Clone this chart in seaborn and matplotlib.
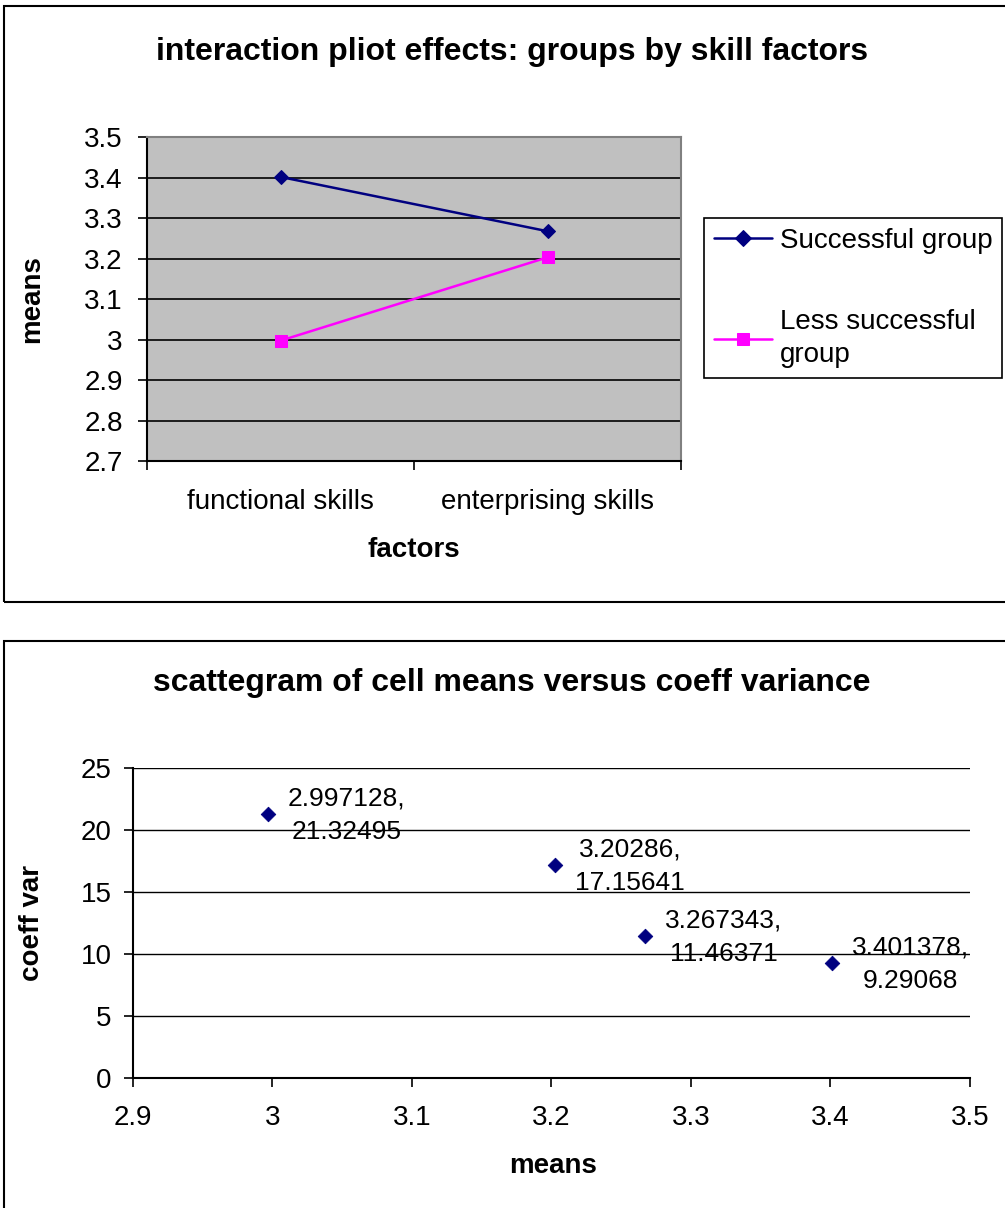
import matplotlib
matplotlib.use("Agg")
import matplotlib.pyplot as plt
import seaborn as sns
import pandas as pd
from matplotlib.patches import Rectangle

# ---------------- data ----------------
factors = ["functional skills", "enterprising skills"]
group_names = ["Successful group", "Less successful group"]
legend_labels = ["Successful group", "Less successful\ngroup"]
successful_means = [3.401378, 3.267343]
less_successful_means = [2.997128, 3.20286]
top_yticks = [2.7, 2.8, 2.9, 3.0, 3.1, 3.2, 3.3, 3.4, 3.5]
top_yticklabels = ["2.7", "2.8", "2.9", "3", "3.1", "3.2", "3.3", "3.4", "3.5"]

cell_means = [2.997128, 3.20286, 3.267343, 3.401378]
coeff_var = [21.32495, 17.15641, 11.46371, 9.29068]
bottom_xticks = [2.9, 3.0, 3.1, 3.2, 3.3, 3.4, 3.5]
bottom_xticklabels = ["2.9", "3", "3.1", "3.2", "3.3", "3.4", "3.5"]
bottom_yticks = [0, 5, 10, 15, 20, 25]

title_top = "interaction pliot effects: groups by skill factors"
title_bottom = "scattegram of cell means versus coeff variance"

NAVY = "#000080"
MAGENTA = "#FF00FF"

sns.set_theme(style="white")
plt.rcParams['font.family'] = ['Liberation Sans', 'DejaVu Sans']
plt.rcParams['text.color'] = 'black'
plt.rcParams['axes.labelcolor'] = 'black'
plt.rcParams['xtick.color'] = 'black'
plt.rcParams['ytick.color'] = 'black'

W, H = 1005, 1208
fig = plt.figure(figsize=(W / 100, H / 100), dpi=100)


def fx(px):
    return px / W


def fy(py):
    return 1 - py / H


# chart frames
fig.patches.append(Rectangle((fx(4), fy(602)), 2, (602 - 6) / H, transform=fig.transFigure,
                             fill=False, ec='black', lw=1.5, zorder=0))
fig.patches.append(Rectangle((fx(4), -1), 2, fy(641) + 1, transform=fig.transFigure,
                             fill=False, ec='black', lw=1.5, zorder=0))

# ---------------- top chart ----------------
ax1 = fig.add_axes([fx(147), fy(461), (681 - 147) / W, (461 - 137) / H])
ax1.set_facecolor("#C0C0C0")
df = pd.DataFrame({
    "factor": factors * 2,
    "mean": successful_means + less_successful_means,
    "group": [g for g in group_names for _ in factors],
})
sns.lineplot(data=df, x="factor", y="mean", hue="group", style="group",
             palette={group_names[0]: NAVY, group_names[1]: MAGENTA},
             markers={group_names[0]: "D", group_names[1]: "s"},
             dashes=False, sort=False, lw=1.8, markersize=7, ax=ax1)
for ln in ax1.lines:
    ln.set_markeredgecolor(ln.get_color())
    if ln.get_marker() == "s":
        ln.set_markersize(9)

ax1.set_xlim(-0.5, 1.5)
ax1.set_ylim(2.7, 3.5)
ax1.set_yticks(top_yticks)
ax1.set_yticklabels(top_yticklabels)
ax1.set_xticks([-0.5, 0.5, 1.5])
ax1.set_xticklabels(["", "", ""])
ax1.set_xticks([0, 1], minor=True)
ax1.set_xticklabels(factors, minor=True)
ax1.tick_params(axis='both', which='major', direction='out', length=6.5, width=1.2,
                color='black', bottom=True, left=True, labelsize=20, pad=6)
ax1.tick_params(axis='y', which='major', pad=11)
ax1.tick_params(axis='x', which='minor', length=0, labelsize=20, pad=20, bottom=True)
ax1.yaxis.grid(True, color='black', lw=1.2)
ax1.set_axisbelow(True)
ax1.yaxis.get_gridlines()[-1].set_visible(False)
for s in ["top", "right"]:
    ax1.spines[s].set_color("#808080")
    ax1.spines[s].set_linewidth(1.5)
for s in ["left", "bottom"]:
    ax1.spines[s].set_color("black")
    ax1.spines[s].set_linewidth(1.5)
ax1.set_xlabel("factors", fontsize=20, fontweight='bold')
ax1.set_ylabel("means", fontsize=20, fontweight='bold')
ax1.xaxis.label.set_va('center')
ax1.yaxis.label.set_va('center')
ax1.xaxis.set_label_coords(0.5, (461 - 550) / 324)
ax1.yaxis.set_label_coords((32 - 147) / 534, 0.5)

handles, labels = ax1.get_legend_handles_labels()
for h in handles:
    h.set_markeredgecolor(h.get_color())
    h.set_markersize(8 if h.get_marker() == "D" else 8.5)
if ax1.legend_:
    ax1.legend_.remove()
leg = fig.legend(handles, legend_labels, loc='upper left',
                 bbox_to_anchor=(fx(704), fy(218)), bbox_transform=fig.transFigure,
                 borderaxespad=0, fontsize=20, frameon=True, fancybox=False,
                 edgecolor='black', framealpha=1, labelspacing=2.0,
                 handlelength=2.1, handletextpad=0.28, markerscale=1.0, borderpad=0.35)
leg.get_frame().set_linewidth(1.2)
for t in leg.get_texts():
    t.set_linespacing(1.35)

fig.text(fx(512), fy(52), title_top, ha='center', va='center', fontsize=23, fontweight='bold')

# ---------------- bottom chart ----------------
ax2 = fig.add_axes([fx(133), fy(1078), (970 - 133) / W, (1078 - 768) / H])
ax2.set_facecolor("white")
sns.scatterplot(x=cell_means, y=coeff_var, marker='D', color=NAVY, edgecolor=NAVY,
                s=55, ax=ax2, zorder=3)
ax2.set_xlim(2.9, 3.5)
ax2.set_ylim(0, 25)
ax2.set_xticks(bottom_xticks)
ax2.set_xticklabels(bottom_xticklabels)
ax2.set_yticks(bottom_yticks)
ax2.tick_params(axis='both', which='major', direction='out', length=6.5, width=1.2,
                color='black', bottom=True, left=True, labelsize=20, pad=13)
ax2.tick_params(axis='y', pad=9)
ax2.yaxis.grid(True, color='black', lw=1.0)
ax2.set_axisbelow(True)
for s in ["top", "right"]:
    ax2.spines[s].set_visible(False)
for s in ["left", "bottom"]:
    ax2.spines[s].set_color("black")
    ax2.spines[s].set_linewidth(1.5)
ax2.set_xlabel("means", fontsize=20, fontweight='bold')
ax2.set_ylabel("coeff var", fontsize=20, fontweight='bold')
ax2.xaxis.label.set_va('center')
ax2.yaxis.label.set_va('center')
ax2.xaxis.set_label_coords((553 - 133) / 837, (1078 - 1166) / 310)
ax2.yaxis.set_label_coords((32 - 133) / 837, 0.5)

for xv, yv in zip(cell_means, coeff_var):
    ax2.annotate(f"{xv},\n{yv}", xy=(xv, yv), xytext=(14, -1), textcoords='offset points',
                 ha='left', va='center', multialignment='center', fontsize=19,
                 linespacing=1.5, zorder=4)

fig.text(fx(512), fy(683), title_bottom, ha='center', va='center', fontsize=23, fontweight='bold')

fig.savefig("out.png", dpi=100)
